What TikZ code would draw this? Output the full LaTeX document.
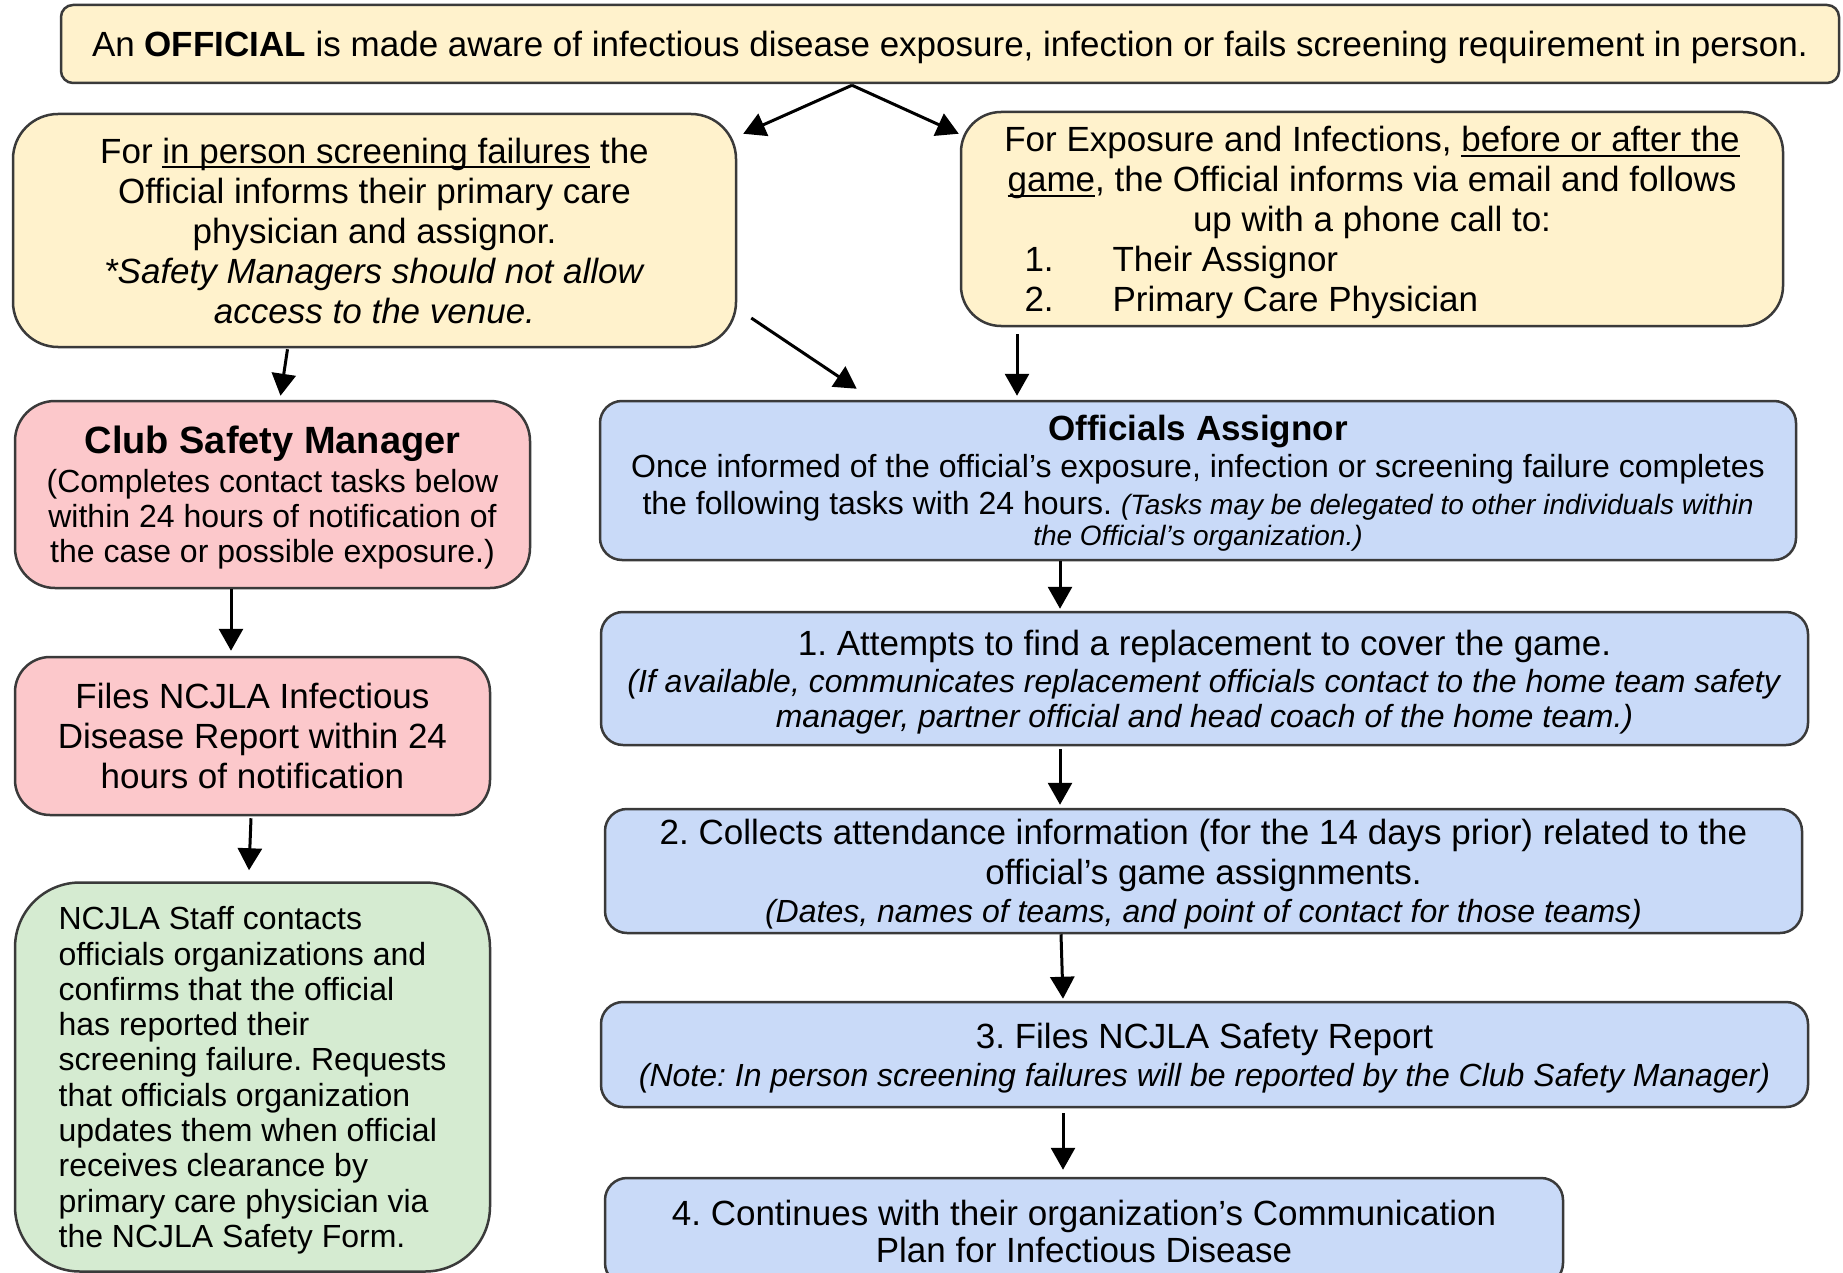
\documentclass[tikz,border=0pt]{standalone}
\usepackage{fontspec}
\setmainfont{Liberation Sans}
\usetikzlibrary{arrows.meta}
\definecolor{yel}{HTML}{FFF2CC}
\definecolor{pnk}{HTML}{FCC8CB}
\definecolor{grn}{HTML}{D5EBD1}
\definecolor{blu}{HTML}{C9DAF8}
\definecolor{edgegray}{HTML}{3A3A3A}
\newcommand\myul[1]{\leavevmode\setbox0\hbox{#1}\rlap{\rule[-5pt]{\wd0}{2pt}}\box0\relax}
\newcommand\fs[2]{\fontsize{#1}{#2}\selectfont}
\frenchspacing
\begin{document}
\begin{tikzpicture}[x=1pt,y=-1pt,
  box/.style={draw=edgegray, line width=2.5pt, rectangle, inner sep=0pt, align=center, text depth=0pt},
  arr/.style={line width=3pt, -{Triangle[length=22pt,width=24pt]}}]
\useasboundingbox (0,0) rectangle (1843,1273);

\node[box, fill=yel, rounded corners=12pt, minimum width=1778pt, minimum height=78pt, font=\fs{35}{40}] (top) at (950,44)
 {An \textbf{OFFICIAL} is made aware of infectious disease exposure, infection or fails screening requirement in person.};

\node[box, fill=yel, rounded corners=45pt, minimum width=723pt, minimum height=233pt, font=\fs{35}{40}] (ly) at (374.5,230.5)
 {For \myul{in person screening failures} the\\Official informs their primary care\\physician and assignor.\\\textit{*Safety Managers should not allow}\\\textit{access to the venue.}};

\node[box, fill=yel, rounded corners=40pt, minimum width=822pt, minimum height=214pt, font=\fs{35}{40}] (ry) at (1372,219)
 {For Exposure and Infections, \myul{before or after the}\\\myul{game}, the Official informs via email and follows\\up with a phone call to:\\\makebox[737pt][l]{\hspace*{21pt}\makebox[88pt][l]{1.}Their Assignor}\\\makebox[737pt][l]{\hspace*{21pt}\makebox[88pt][l]{2.}Primary Care Physician}};

\node[box, fill=pnk, rounded corners=40pt, minimum width=515pt, minimum height=187pt, font=\fs{32}{35}] (csm) at (272.5,494.5)
 {{\fs{38}{42}\bfseries Club Safety Manager}\\[4pt](Completes contact tasks below\\within 24 hours of notification of\\the case or possible exposure.)};

\node[box, fill=pnk, rounded corners=35pt, minimum width=475pt, minimum height=158pt, font=\fs{35}{40}] (files) at (252.5,736)
 {Files NCJLA Infectious\\Disease Report within 24\\hours of notification};

\node[box, fill=grn, rounded corners=65pt, minimum width=475pt, minimum height=389pt, font=\fs{32}{35.3}, align=left] (green) at (252.5,1077)
 {NCJLA Staff contacts\\officials organizations and\\confirms that the official\\has reported their\\screening failure. Requests\\that officials organization\\updates them when official\\receives clearance by\\primary care physician via\\the NCJLA Safety Form.};

\node[box, fill=blu, rounded corners=22pt, minimum width=1196pt, minimum height=159pt, font=\fs{32}{37}] (oa) at (1198,480.5)
 {{\fs{35}{38}\bfseries Officials Assignor}\\Once informed of the official’s exposure, infection or screening failure completes\\the following tasks with 24 hours. {\fs{28}{31}\itshape (Tasks may be delegated to other individuals within}\\[-6pt]{\fs{28}{31}\itshape the Official’s organization.)}};

\node[box, fill=blu, rounded corners=22pt, minimum width=1207pt, minimum height=133pt, font=\fs{32}{35}] (b1) at (1204.5,678.5)
 {{\fs{35}{38}1. Attempts to find a replacement to cover the game.}\\[2pt]\textit{(If available, communicates replacement officials contact to the home team safety}\\\textit{manager, partner official and head coach of the home team.)}};

\node[box, fill=blu, rounded corners=22pt, minimum width=1197pt, minimum height=124pt, font=\fs{35}{40}] (b2) at (1203.5,871)
 {2. Collects attendance information (for the 14 days prior) related to the\\official’s game assignments.\\[-2pt]{\fs{32}{35}\textit{(Dates, names of teams, and point of contact for those teams)}}};

\node[box, fill=blu, rounded corners=22pt, minimum width=1207pt, minimum height=105pt, font=\fs{35}{38}] (b3) at (1204.5,1054.5)
 {3. Files NCJLA Safety Report\\{\fs{32}{35}\textit{(Note: In person screening failures will be reported by the Club Safety Manager)}}};

\node[box, fill=blu, rounded corners=22pt, minimum width=958pt, minimum height=107pt, font=\fs{35}{37}] (b4) at (1084,1231.5)
 {4. Continues with their organization’s Communication\\Plan for Infectious Disease};

% connectors
\coordinate (split) at ([xshift=-98pt,yshift=-1pt]top.south);
\draw[arr] (split) -- ([xshift=6pt,yshift=-21pt]ly.north east);
\draw[arr] (split) -- ([xshift=-1pt,yshift=-23pt]ry.north west);
\draw[arr] ([xshift=-87pt,yshift=-1pt]ly.south) -- ([xshift=8pt,yshift=4pt]csm.north);
\draw[arr] ([xshift=14pt,yshift=-87.5pt]ly.east) -- ([xshift=258pt,yshift=11pt]oa.north west);
\draw[arr] ([xshift=-355pt,yshift=-7pt]ry.south) -- ([xshift=-181pt,yshift=4pt]oa.north);
\draw[arr] ([xshift=-41.5pt]csm.south) -- ([xshift=-21.5pt,yshift=5pt]files.north);
\draw[arr] ([xshift=-1.5pt,yshift=-2pt]files.south) -- ([xshift=-3.5pt,yshift=11pt]green.north);
\draw[arr] ([xshift=-138pt]oa.south) -- ([xshift=-144.5pt,yshift=2pt]b1.north);
\draw[arr] ([xshift=-144.5pt,yshift=-3pt]b1.south) -- ([xshift=-143.5pt,yshift=3pt]b2.north);
\draw[arr] ([xshift=-142.5pt]b2.south) -- ([xshift=-141.5pt,yshift=2pt]b3.north);
\draw[arr] ([xshift=-141.5pt,yshift=-5pt]b3.south) -- ([xshift=-21pt,yshift=7pt]b4.north);
\end{tikzpicture}
\end{document}
